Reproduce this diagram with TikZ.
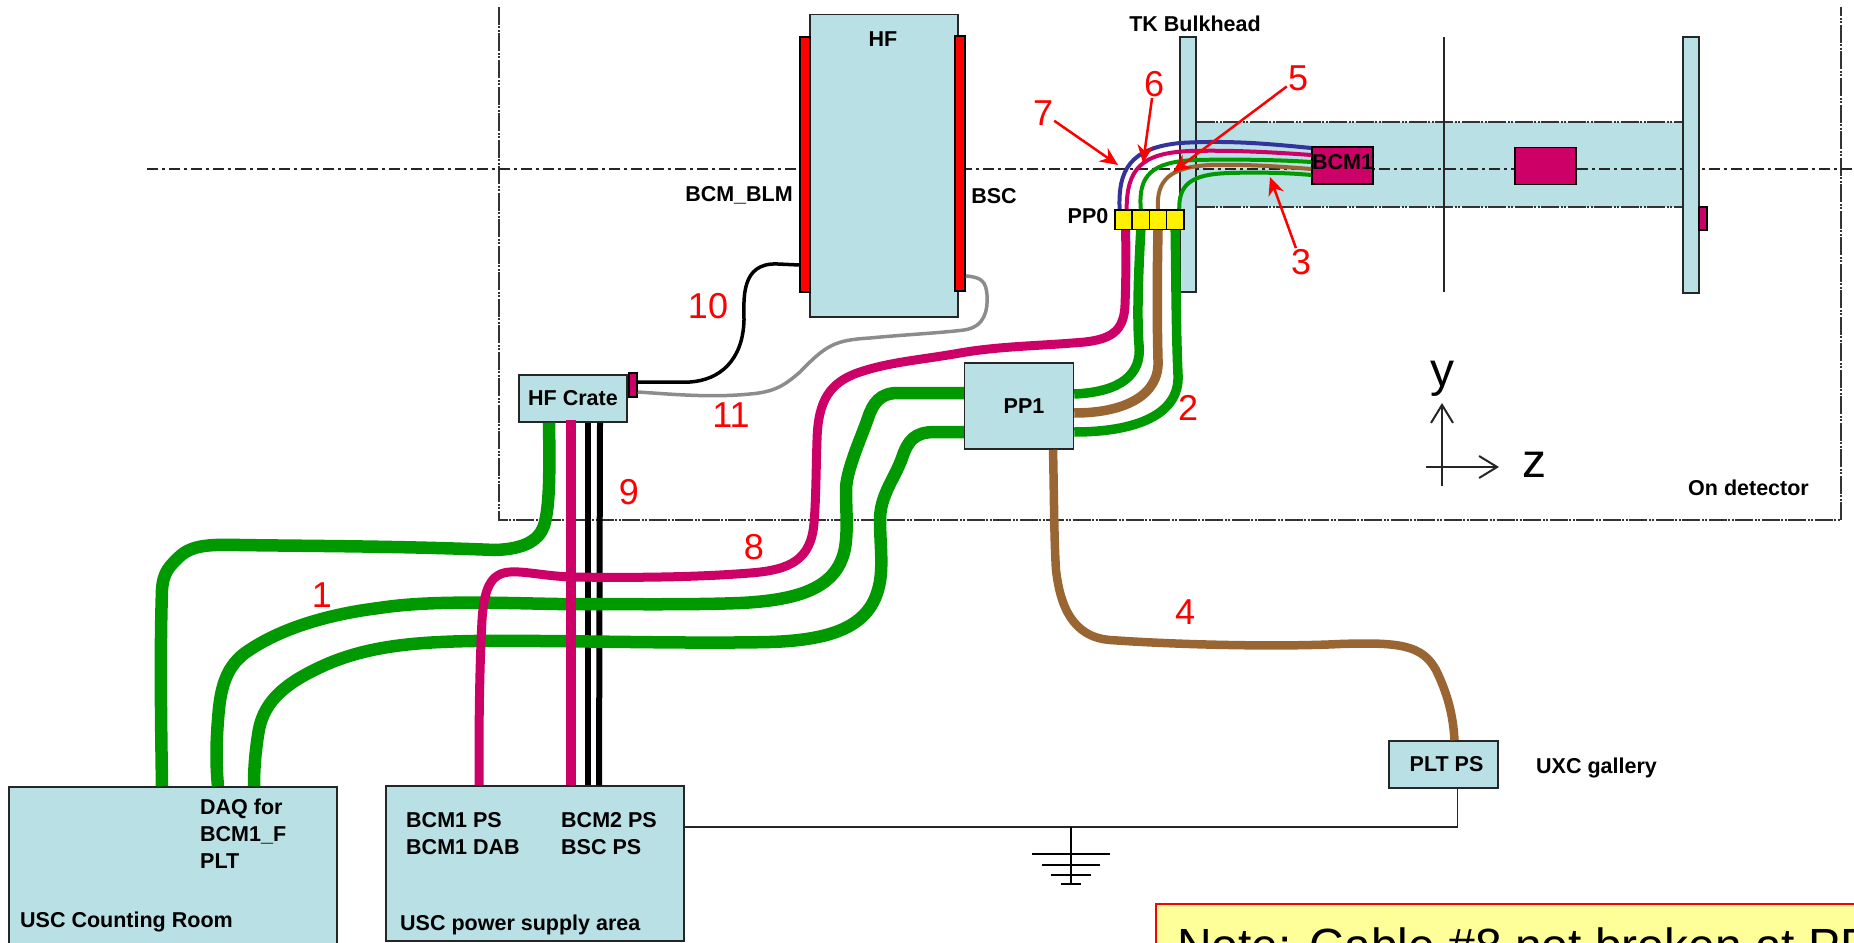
\documentclass[tikz,border=0pt]{standalone}
\usepackage{fontspec}
\setmainfont{Liberation Sans}
\usetikzlibrary{positioning, arrows.meta}
\definecolor{boxcolor}{RGB}{185,224,228}
\definecolor{greencolor}{RGB}{0,153,0}
\definecolor{magentacolor}{RGB}{204,0,102}
\definecolor{browncolor}{RGB}{153,102,51}
\definecolor{bluecolor}{RGB}{51,51,153}
\definecolor{notecolor}{RGB}{255,255,153}

\begin{document}
\begin{tikzpicture}[x=1pt, y=-1pt,
    block/.style={rectangle, draw=black!85, line width=1.5pt, fill=boxcolor, inner sep=0pt, font=\fontsize{21.5pt}{26pt}\selectfont\bfseries, align=left},
    part/.style={rectangle, draw=black, line width=1.5pt, inner sep=0pt},
    lbl/.style={font=\fontsize{21.5pt}{27pt}\selectfont\bfseries, align=left, inner sep=0pt},
    num/.style={font=\fontsize{36pt}{36pt}\selectfont, text=red, inner sep=1pt},
    axis/.style={font=\fontsize{48pt}{48pt}\selectfont, inner sep=0pt, anchor=base},
    cable/.style={line width=#1, line cap=butt, line join=round},
    framedash/.style={line width=1.5pt, draw=black!80, dash pattern=on 18pt off 1.5pt on 2pt off 1.5pt on 2pt off 1.5pt},
    centerdash/.style={line width=1.6pt, draw=black!85, dash pattern=on 11pt off 4pt on 2.5pt off 4.5pt},
    redarrow/.style={-{Stealth[length=18pt, width=16pt]}, line width=2.5pt, red},
    axisarrow/.style={-{Straight Barb[length=18pt, width=22pt]}, line width=2pt, black!85},
]
    \useasboundingbox (0,0) rectangle (1854,942);
    \clip (0,0) rectangle (1854,942);

    \node[rectangle, fill=boxcolor, inner sep=0pt, minimum width=486pt, minimum height=85pt] (tube) at (1440,164.5) {};
    \draw[framedash] (tube.north west) -- (tube.north east);
    \draw[framedash] (tube.south west) -- (tube.south east);
    \draw[framedash] (499,7) -- (499,520) -- (1841,520) -- (1841,7);
    \draw[centerdash] (147,169) -- (1854,169);
    \draw[line width=1.5pt, black!85] (1444,37) -- (1444,292);

    \node[block, minimum width=328pt, minimum height=158pt] (counting) at (173,866) {};
    \node[block, minimum width=298pt, minimum height=155pt] (powerarea) at (535,863.5) {};
    \node[block, minimum width=109pt, minimum height=86pt] (ppone) at (1019,406) {\hspace*{10pt}\raisebox{-3pt}{PP1}};
    \node[block, minimum width=108pt, minimum height=47pt] (hfcrate) at (573,398.5) {HF Crate};
    \node[block, minimum width=109pt, minimum height=47pt] (pltps) at (1443.5,764.5) {\hspace*{6pt}PLT PS};
    \node[block, minimum width=148pt, minimum height=302pt, anchor=north] (hf) at (884,14) {};
    \node[part, fill=red, minimum width=10pt, minimum height=255pt] (blmbar) at (805,164.5) {};
    \node[part, fill=red, minimum width=10pt, minimum height=255pt] (bscbar) at (960,163.5) {};
    \node[part, fill=magentacolor, minimum width=8pt, minimum height=24pt] (crateplug) at (633,385) {};
    \node[block, minimum width=16pt, minimum height=255pt] (bulkhead) at (1188,164.5) {};
    \node[block, minimum width=16pt, minimum height=256pt] (endplate) at (1691,165) {};
    \node[part, fill=magentacolor, minimum width=8pt, minimum height=23pt] (endplug) at (1703,218.5) {};
    \node[part, fill=magentacolor, minimum width=61pt, minimum height=37pt] (secondbcm) at (1545.5,166) {};

    \node[part, fill=yellow, minimum width=17.2pt, minimum height=19.5pt] (ppa) at (1123.6,219.5) {};
    \node[part, fill=yellow, minimum width=17.2pt, minimum height=19.5pt] (ppb) at (1140.8,219.5) {};
    \node[part, fill=yellow, minimum width=17.2pt, minimum height=19.5pt] (ppc) at (1158,219.5) {};
    \node[part, fill=yellow, minimum width=17.2pt, minimum height=19.5pt] (ppd) at (1175.2,219.5) {};
    \node[part, fill=magentacolor, minimum width=61pt, minimum height=37pt, font=\fontsize{21.5pt}{26pt}\selectfont\bfseries] (bcmone) at (1342.5,165.5) {\raisebox{7pt}{BCM1}};

    \draw[cable=6pt, black] ([xshift=15pt]hfcrate.south) -- ([xshift=53pt]powerarea.north);
    \draw[cable=6pt, black] ([xshift=27pt]hfcrate.south) -- ([xshift=64pt]powerarea.north);
    \draw[cable=3.5pt, black] (crateplug.east |- 0,382) -- (690,382) .. controls (720,380) and (743,360) .. (744,320) .. controls (744,300) and (740,262) .. (778,264) -- (blmbar.west |- 0,265);
    \draw[cable=3.5pt, black!45] (crateplug.east |- 0,392) .. controls (670,394) and (710,398) .. (750,394) .. controls (775,392) and (785,385) .. (800,372) .. controls (826,345) and (835,340) .. (870,338) .. controls (900,335) and (940,333) .. (964,330) .. controls (985,327) and (988,310) .. (987,295) .. controls (986,282) and (982,277) .. (bscbar.east |- 0,276);

    \draw[cable=12.5pt, greencolor] ([xshift=-24pt]hfcrate.south) .. controls (550,480) and (549,505) .. (545,522) .. controls (541,540) and (525,549) .. (495,550) .. controls (400,546) and (300,546) .. (240,545) .. controls (205,544) and (190,546) .. (178,558) .. controls (170,566) and (163,572) .. (162,590) .. controls (160,650) and (161,720) .. ([xshift=-11pt]counting.north);
    \draw[cable=12.5pt, greencolor] (ppone.west |- 0,393) -- (898,393) .. controls (880,393) and (873,403) .. (868,418) .. controls (862,436) and (846,470) .. (846,490) .. controls (846,510) and (848,530) .. (845,548) .. controls (838,585) and (805,600) .. (740,603) .. controls (690,605) and (620,604) .. (558,604) .. controls (500,603) and (430,600) .. (379,608) .. controls (330,614) and (280,628) .. (245,653) .. controls (225,668) and (220,690) .. (218,720) .. controls (216,745) and (216,765) .. ([xshift=45pt]counting.north);
    \draw[cable=12.5pt, greencolor] (ppone.west |- 0,432) -- (935,432) .. controls (915,432) and (908,440) .. (902,458) .. controls (895,478) and (880,495) .. (880,520) .. controls (880,545) and (884,570) .. (878,590) .. controls (868,625) and (835,640) .. (770,642) .. controls (680,644) and (560,640) .. (473,641) .. controls (420,642) and (370,645) .. (325,665) .. controls (280,685) and (262,705) .. (258,735) .. controls (255,755) and (254,770) .. ([xshift=81pt]counting.north);
    \draw[cable=9.5pt, greencolor] (ppb.south) .. controls (1138,280) and (1137,320) .. (1139,345) .. controls (1142,375) and (1120,392) .. (ppone.east |- 0,394);
    \draw[cable=9.5pt, browncolor] (ppc.south) .. controls (1157,280) and (1157,320) .. (1158,360) .. controls (1160,395) and (1125,413) .. (ppone.east |- 0,413);
    \draw[cable=9.5pt, greencolor] (ppd.south) .. controls (1176,280) and (1176,330) .. (1178,375) .. controls (1180,415) and (1135,432) .. (ppone.east |- 0,432);
    \draw[cable=8.5pt, browncolor] ([xshift=34pt]ppone.south) .. controls (1054,490) and (1054,540) .. (1056,570) .. controls (1060,605) and (1072,637) .. (1110,640) .. controls (1180,645) and (1280,647) .. (1340,644) .. controls (1400,642) and (1422,645) .. (1436,670) .. controls (1448,695) and (1453,715) .. ([xshift=11pt]pltps.north);
    \draw[cable=9pt, magentacolor] ([xshift=2pt]ppa.south) .. controls (1126,260) and (1126,280) .. (1125,305) .. controls (1124,332) and (1110,339) .. (1085,342) .. controls (1040,346) and (1000,346) .. (960,353) .. controls (920,360) and (890,362) .. (860,372) .. controls (830,382) and (818,400) .. (817,440) .. controls (816,470) and (816,500) .. (814,523) .. controls (811,560) and (790,570) .. (750,573) .. controls (700,577) and (640,578) .. (571,577) .. controls (545,576) and (525,571) .. (510,572) .. controls (490,573) and (484,590) .. (482,620) .. controls (479,680) and (479,730) .. ([xshift=-56pt]powerarea.north);
    \draw[cable=10pt, magentacolor] ([xshift=-2pt, yshift=3pt]hfcrate.south) -- ([xshift=36pt]powerarea.north);

    \draw[cable=4pt, bluecolor] ([xshift=-4pt]ppa.north) .. controls (1118,170) and (1130,148) .. (1180,143) .. controls (1230,140) and (1270,144) .. (bcmone.west |- 0,148);
    \draw[cable=4pt, magentacolor] ([xshift=3pt]ppa.north) .. controls (1127,170) and (1140,153) .. (1190,151) .. controls (1230,150) and (1270,152) .. (bcmone.west |- 0,155);
    \draw[cable=4pt, greencolor] (ppb.north) .. controls (1138,175) and (1152,162) .. (1195,160) .. controls (1240,159) and (1280,160) .. (bcmone.west |- 0,162);
    \draw[cable=4pt, browncolor] (ppc.north) .. controls (1156,180) and (1170,167) .. (1210,165) .. controls (1250,164) and (1285,167) .. (bcmone.west |- 0,169);
    \draw[cable=4pt, greencolor] ([xshift=4pt]ppd.north) .. controls (1179,185) and (1190,174) .. (1230,173) .. controls (1260,172) and (1290,173) .. (bcmone.west |- 0,175);

    \node[lbl] (hflbl) at (883,39) {HF};
    \node[lbl] (tklbl) at (1195,24) {TK Bulkhead};
    \node[lbl] (blmlbl) at (739,195) {BCM\_BLM};
    \node[lbl] (bsclbl) at (994,196) {BSC};
    \node[lbl] (pplbl) at (1088,216) {PP0};
    \node[lbl, anchor=west] (uxclbl) at (1536,768) {UXC gallery};
    \node[lbl, anchor=west] (detlbl) at (1688,488) {On detector};
    \node[lbl, anchor=north west] (daqlbl) at (200,799) {DAQ for\\BCM1\_F\\PLT};
    \node[lbl, anchor=west] (roomlbl) at (20,922) {USC Counting Room};
    \node[lbl, anchor=north west] (bcmpslbl) at (406,812) {BCM1 PS\\BCM1 DAB};
    \node[lbl, anchor=north west] (bscpslbl) at (561,812) {BCM2 PS\\BSC PS};
    \node[lbl, anchor=west] (arealbl) at (400,925) {USC power supply area};

    \node[num] (nseven) at (1043,113) {7};
    \node[num] (nsix) at (1154,84) {6};
    \node[num] (nfive) at (1298,78) {5};
    \node[num] (nthree) at (1301,262) {3};
    \node[num] (nten) at (708,306) {10};
    \node[num] (neleven) at (731,415) {11};
    \node[num] (ntwo) at (1188,408) {2};
    \node[num] (nnine) at (629,492) {9};
    \node[num] (neight) at (754,547) {8};
    \node[num] (none) at (322,595) {1};
    \node[num] (nfour) at (1185,612) {4};

    \coordinate (tipseven) at (1118,165);
    \coordinate (tipsix) at (1143,163);
    \coordinate (tipfive) at (1173,172);
    \coordinate (tipthree) at (1270,177);
    \draw[redarrow] (nseven) -- (tipseven);
    \draw[redarrow] (nsix) -- (tipsix);
    \draw[redarrow] (nfive) -- (tipfive);
    \draw[redarrow] (nthree) -- (tipthree);

    \coordinate (yfoot) at (1442,486);
    \coordinate (yhead) at (1442,403);
    \coordinate (zfoot) at (1426,467);
    \coordinate (zhead) at (1499,467);
    \draw[axisarrow] (yfoot) -- (yhead);
    \draw[axisarrow] (zfoot) -- (zhead);
    \node[axis] (ylbl) at (1442,386) {y};
    \node[axis] (zlbl) at (1534,477) {z};

    \coordinate (gndtop) at (1071,827);
    \coordinate (gndend) at (1071,884);
    \draw[line width=1.8pt, black!85] (powerarea.east |- gndtop) -- (gndtop) -- ([xshift=14pt]pltps.south |- gndtop) -- ([xshift=14pt]pltps.south);
    \draw[line width=1.8pt, black] (gndtop) -- (gndend);
    \draw[line width=2.8pt, black] (1032,854) -- (1110,854);
    \draw[line width=2.8pt, black] (1042,865) -- (1100,865);
    \draw[line width=2.8pt, black] (1051,875) -- (1091,875);
    \draw[line width=2.8pt, black] (1061,884) -- (1081,884);

    \draw[line width=2.5pt, red, fill=notecolor] (1156,904) rectangle (1880,980);
    \node[anchor=base west, inner sep=0pt, font=\fontsize{48pt}{48pt}\selectfont] (note) at (1177,962) {Note: Cable \#8 not broken at PP};
\end{tikzpicture}
\end{document}
